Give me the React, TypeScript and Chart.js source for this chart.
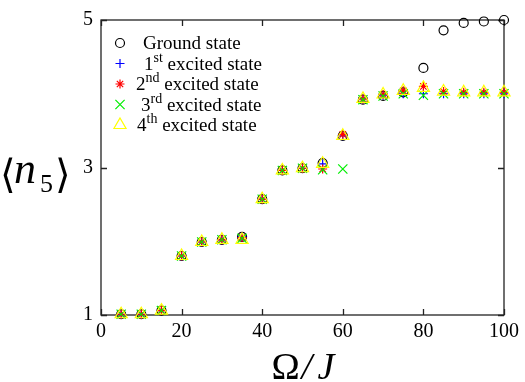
import React, { useEffect, useRef } from "react";
import { Chart, registerables } from "chart.js";
import { drawPoint } from "chart.js/helpers";

Chart.register(...registerables);

const omega = [5, 10, 15, 20, 25, 30, 35, 40, 45, 50, 55, 60, 65, 70, 75, 80, 85, 90, 95, 100];
const groundState = [1.01, 1.01, 1.06, 1.8, 1.99, 2.02, 2.06, 2.57, 2.96, 2.99, 3.06, 3.43, 3.92, 3.97, 4.02, 4.35, 4.86, 4.96, 4.98, 5.0];
const firstExcited = [1.01, 1.01, 1.06, 1.8, 1.99, 2.02, 2.06, 2.57, 2.96, 2.99, 3.05, 3.43, 3.93, 3.98, 4.0, 4.0, 4.0, 4.0, 4.0, 4.0];
const secondExcited = [1.01, 1.01, 1.06, 1.8, 1.99, 2.02, 2.05, 2.57, 2.96, 2.99, 2.98, 3.45, 3.93, 3.99, 4.04, 4.1, 4.03, 4.02, 4.02, 4.02];
const thirdExcited = [1.01, 1.01, 1.06, 1.8, 1.99, 2.02, 2.04, 2.57, 2.96, 2.99, 2.97, 2.98, 3.92, 3.97, 4.0, 3.98, 4.0, 4.0, 4.0, 4.0];
const fourthExcited = [1.01, 1.01, 1.06, 1.8, 1.99, 2.02, 2.02, 2.57, 2.96, 2.99, 3.05, 3.43, 3.93, 3.99, 4.04, 4.08, 4.03, 4.02, 4.02, 4.02];

const seriesNames = ["Ground state", "1st excited state", "2nd excited state", "3rd excited state", "4th excited state"];
const seriesColors = ["#000000", "#0000ff", "#ff0000", "#00ee00", "#ffff00"];
const seriesStyles = ["circle", "cross", "star", "crossRot", "triangle"];
const seriesRadius = [4.5, 4.5, 4.5, 6.5, 7];
const seriesValues = [groundState, firstExcited, secondExcited, thirdExcited, fourthExcited];

const xTicks = [0, 20, 40, 60, 80, 100];
const yTicks = [1, 3, 5];

const SERIF = "'Liberation Serif'";

const framePlugin = {
  id: "frame",
  beforeDatasetsDraw(chart: any) {
    const { ctx, chartArea: a, scales } = chart;
    const x = scales.x;
    const y = scales.y;
    ctx.save();
    ctx.strokeStyle = "#222";
    ctx.lineWidth = 1.3;
    ctx.strokeRect(a.left, a.top, a.right - a.left, a.bottom - a.top);
    ctx.beginPath();
    for (const v of xTicks) {
      const px = Math.round(x.getPixelForValue(v)) + 0.5;
      ctx.moveTo(px, a.bottom);
      ctx.lineTo(px, a.bottom - 6);
      ctx.moveTo(px, a.top);
      ctx.lineTo(px, a.top + 6);
    }
    for (const v of yTicks) {
      const py = Math.round(y.getPixelForValue(v)) + 0.5;
      ctx.moveTo(a.left, py);
      ctx.lineTo(a.left + 6, py);
      ctx.moveTo(a.right, py);
      ctx.lineTo(a.right - 6, py);
    }
    ctx.stroke();
    ctx.restore();
  },
};

const legendX = [143, 144, 136, 141, 137];

const decorPlugin = {
  id: "decor",
  afterDraw(chart: any) {
    const { ctx, chartArea: a } = chart;
    ctx.save();
    seriesNames.forEach((name, i) => {
      const rowY = a.top + 23 + i * 20.5;
      ctx.strokeStyle = seriesColors[i];
      ctx.fillStyle = "rgba(0,0,0,0)";
      ctx.lineWidth = 1.2;
      drawPoint(ctx, { pointStyle: seriesStyles[i], radius: seriesRadius[i], rotation: 0, borderWidth: 1.2 } as any, 120, rowY);
      ctx.fillStyle = "#000";
      ctx.textBaseline = "alphabetic";
      ctx.textAlign = "left";
      const m = name.match(/^(\d)(st|nd|rd|th) (.*)$/);
      const base = rowY + 6;
      if (m) {
        let cx = legendX[i];
        ctx.font = `19px ${SERIF}`;
        ctx.fillText(m[1], cx, base);
        cx += ctx.measureText(m[1]).width;
        ctx.font = `14px ${SERIF}`;
        ctx.fillText(m[2], cx, base - 8);
        cx += ctx.measureText(m[2]).width;
        ctx.font = `19px ${SERIF}`;
        ctx.fillText(" " + m[3], cx, base);
      } else {
        ctx.font = `19px ${SERIF}`;
        ctx.fillText(name, legendX[i], base);
      }
    });

    ctx.fillStyle = "#000";
    ctx.font = `40px 'DejaVu Serif'`;
    ctx.fillText("\u27E8", 0, 188);
    ctx.font = `italic 44px ${SERIF}`;
    ctx.fillText("n", 14, 183);
    ctx.font = `26px ${SERIF}`;
    ctx.fillText("5", 40, 192);
    ctx.font = `40px 'DejaVu Serif'`;
    ctx.fillText("\u27E9", 55, 188);

    const xc = (a.left + a.right) / 2;
    ctx.font = `38px ${SERIF}`;
    ctx.fillText("\u03A9", xc - 31, 379);
    ctx.font = `italic 38px ${SERIF}`;
    ctx.fillText("/", xc - 1, 379);
    ctx.fillText("J", xc + 15, 379);
    ctx.restore();
  },
};

export default function App() {
  const ref = useRef<HTMLCanvasElement | null>(null);
  useEffect(() => {
    document.body.style.margin = "0";
    const canvas = ref.current;
    if (!canvas) return;
    const datasets = seriesValues.map((vals, i) => ({
      label: seriesNames[i],
      data: omega.map((o, k) => ({ x: o, y: vals[k] })),
      pointStyle: seriesStyles[i] as any,
      pointRadius: seriesRadius[i],
      pointBorderWidth: 1.2,
      borderColor: seriesColors[i],
      backgroundColor: "rgba(0,0,0,0)",
      showLine: false,
      clip: false as any,
      order: 5 - i,
    }));
    const chart = new Chart(canvas, {
      type: "scatter",
      data: { datasets },
      options: {
        animation: false,
        responsive: false,
        layout: { padding: { top: 20, right: 21, left: 0, bottom: 0 } },
        plugins: { legend: { display: false }, tooltip: { enabled: false } },
        scales: {
          x: {
            type: "linear",
            min: 0,
            max: 100,
            afterBuildTicks: (s: any) => {
              s.ticks = xTicks.map((v) => ({ value: v }));
            },
            afterFit: (s: any) => {
              s.height = 67;
            },
            grid: { display: false, drawTicks: false },
            border: { display: false },
            ticks: { color: "#000", font: { family: SERIF, size: 20 }, padding: 5, maxRotation: 0 },
          },
          y: {
            type: "linear",
            min: 1,
            max: 5,
            afterBuildTicks: (s: any) => {
              s.ticks = yTicks.map((v) => ({ value: v }));
            },
            afterFit: (s: any) => {
              s.width = 101;
            },
            grid: { display: false, drawTicks: false },
            border: { display: false },
            ticks: { color: "#000", font: { family: SERIF, size: 20 }, padding: 8 },
          },
        },
      },
      plugins: [framePlugin, decorPlugin],
    });
    return () => chart.destroy();
  }, []);
  return (
    <div style={{ position: "fixed", left: 0, top: 0, width: 525, height: 382 }}>
      <canvas ref={ref} width={525} height={382} style={{ width: 525, height: 382 }} />
    </div>
  );
}
